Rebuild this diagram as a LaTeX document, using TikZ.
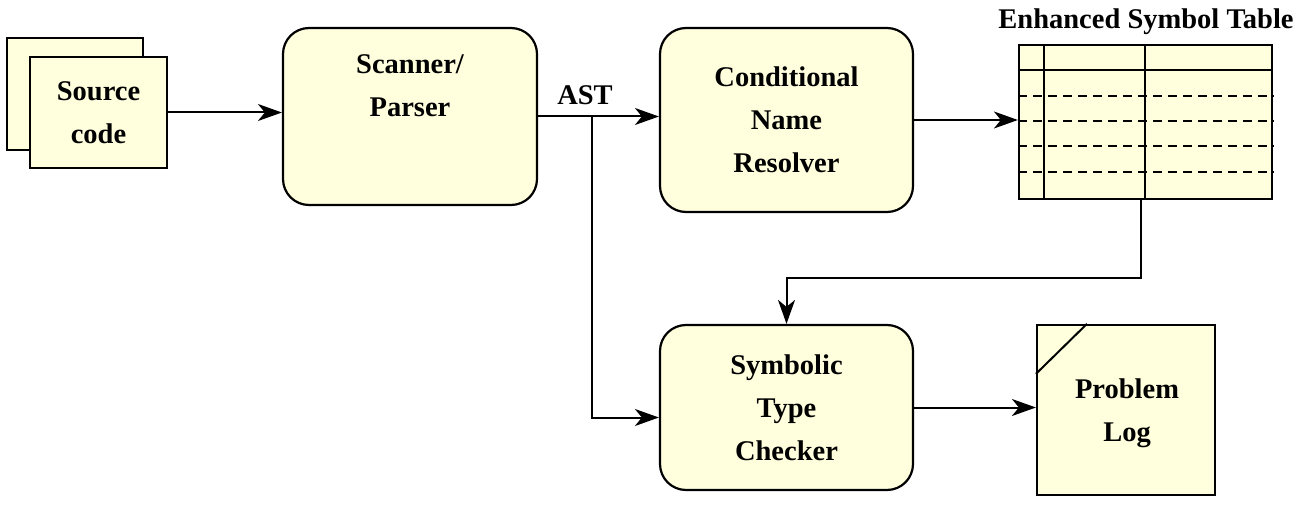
\documentclass[tikz,border=0pt]{standalone}
\usepackage{fontspec}
\setmainfont{Liberation Serif}
\usetikzlibrary{arrows.meta}
\definecolor{boxfill}{RGB}{255,255,221}
\begin{document}
\begin{tikzpicture}[x=1pt,y=-1pt,
 txt/.style={font=\fontsize{28.5}{43}\selectfont\bfseries, align=center, inner sep=0pt},
 box/.style={txt, draw, line width=2.2pt, fill=boxfill},
 proc/.style={box, rounded corners=26pt},
 arr/.style={line width=2pt, -{Stealth[length=24pt,width=17pt,inset=7pt]}},
 ln/.style={line width=2pt},
 dsh/.style={line width=2pt, dash pattern=on 9pt off 6pt}]
\useasboundingbox (0,0) rectangle (1306,505);

% Source code (stacked documents)
\node[box, minimum width=136pt, minimum height=112pt] (srcback) at (75,94) {};
\node[box, minimum width=137pt, minimum height=111pt] (src) at (98.5,112.5) {Source\\code};

% Scanner/Parser
\node[proc, minimum width=254pt, minimum height=177pt] (scan) at (410,116.5) {};
\node[txt] (scantxt) at (410,86) {Scanner/\\Parser};

% Conditional Name Resolver
\node[proc, minimum width=253pt, minimum height=184pt] (res) at (786.5,120) {Conditional\\Name\\Resolver};

% Symbolic Type Checker
\node[proc, minimum width=253pt, minimum height=165pt] (chk) at (786.5,407.5) {Symbolic\\Type\\Checker};

% Enhanced Symbol Table
\node[box, minimum width=253pt, minimum height=154pt] (tab) at (1145.5,122) {};
\node[txt] (tabtitle) at (1146,22) {Enhanced Symbol Table};
\draw[ln] ([xshift=26pt]tab.north west) -- ([xshift=26pt]tab.south west);
\draw[ln] ([xshift=127pt]tab.north west) -- ([xshift=127pt]tab.south west);
\draw[ln] ([yshift=-26pt]tab.north west) -- ([yshift=-26pt]tab.north east);
\foreach \d in {52,77,102,128}{
  \draw[dsh] ([yshift=-\d pt]tab.north west) -- ([yshift=-\d pt]tab.north east);
}

% Problem Log
\node[box, minimum width=178pt, minimum height=170pt] (log) at (1126,410) {};
\node[txt] (logtxt) at (1127,413) {Problem\\Log};
\draw[ln] ([yshift=-50pt]log.north west) -- ([xshift=51pt]log.north west);

% Connectors
\draw[arr] (src.east) -- (src.east -| scan.west);
\draw[arr] (scan.east) -- (scan.east -| res.west);
\node[txt] (ast) at (585,95) {AST};
\coordinate (br) at (592,117);
\draw[arr] (br) |- ([yshift=-10pt]chk.west);
\draw[arr] (res.east) -- (res.east -| tab.west);
\draw[arr] ([xshift=-5pt]tab.south) -- ++(0,78) -| (chk.north);
\draw[arr] (chk.east) -- (chk.east -| log.west);
\end{tikzpicture}
\end{document}
